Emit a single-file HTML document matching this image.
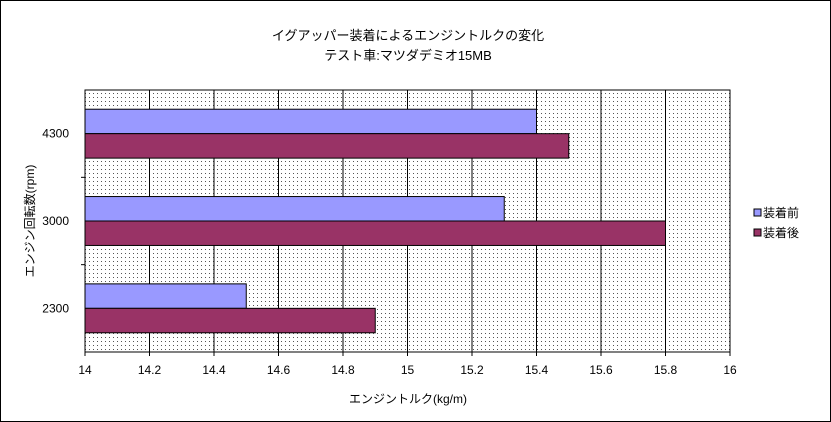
<!DOCTYPE html>
<html><head><meta charset="utf-8"><style>
body{margin:0;background:#fff;}
svg{display:block;font-family:"Liberation Sans","Noto Sans CJK JP",sans-serif;}
</style></head><body>
<svg width="831" height="422" viewBox="0 0 831 422">
<defs><pattern id="dots" width="4" height="4" patternUnits="userSpaceOnUse"><rect width="4" height="4" fill="#fff"/><rect x="1" y="1" width="1" height="1" fill="#555"/></pattern></defs>
<rect x="0.5" y="0.5" width="830" height="421" fill="#fff" stroke="#000"/>
<text x="408" y="40" font-size="13" text-anchor="middle">イグアッパー装着によるエンジントルクの変化</text>
<text x="408" y="60" font-size="13" text-anchor="middle">テスト車:マツダデミオ15MB</text>
<rect x="85" y="90" width="645" height="262" fill="url(#dots)" stroke="#000"/>
<g id="grid"></g><g id="bars"></g><g id="axes"></g>
<text x="408" y="403" font-size="12" text-anchor="middle">エンジントルク(kg/m)</text>
<text transform="translate(34,221) rotate(-90)" font-size="12" text-anchor="middle">エンジン回転数(rpm)</text>
<g>
<rect x="754" y="209" width="7" height="7" fill="#9999ff" stroke="#000"/>
<text x="763" y="217" font-size="12">装着前</text>
<rect x="754" y="229" width="7" height="7" fill="#993366" stroke="#000"/>
<text x="763" y="237" font-size="12">装着後</text>
</g>
</svg>
<script>
const categories=["4300","3000","2300"];
const before=[15.4,15.3,14.5];
const after=[15.5,15.8,14.9];
const xTicks=[14,14.2,14.4,14.6,14.8,15,15.2,15.4,15.6,15.8,16];
const ns="http://www.w3.org/2000/svg";
const X0=85,X1=730,Y0=90,Y1=352,xmin=14,xmax=16;
const xs=v=>X0+(v-xmin)/(xmax-xmin)*(X1-X0);
const band=(Y1-Y0)/categories.length;
function mk(t,a,p){const e=document.createElementNS(ns,t);for(const k in a)e.setAttribute(k,a[k]);p.appendChild(e);return e;}
const g=document.getElementById('grid'),b=document.getElementById('bars'),ax=document.getElementById('axes');
xTicks.forEach((t,i)=>{const x=xs(t);
 if(i>0&&i<xTicks.length-1){const l=mk('line',{x1:x,x2:x,y1:Y0,y2:Y1,stroke:'#000'},g);
 
 }
 const tk=mk('line',{x1:x,x2:x,y1:Y1,y2:Y1+4,stroke:'#000'},ax);
 
 
 const tx=mk('text',{x:x,y:374,'font-size':12,'text-anchor':'middle'},ax);tx.textContent=String(t);
 
 
});
const bh=band*0.28;
categories.forEach((c,i)=>{const yc=Y0+band*(i+0.5);
 const r1=mk('rect',{x:X0,y:yc-bh,width:xs(before[i])-X0,height:bh,fill:'#9999ff',stroke:'#000'},b);
 
 
 const r2=mk('rect',{x:X0,y:yc,width:xs(after[i])-X0,height:bh,fill:'#993366',stroke:'#000'},b);
 
 
 const tx=mk('text',{x:X0-16,y:yc+4,'font-size':12,'text-anchor':'end'},ax);tx.textContent=c;
 
 
 if(i>0){const tk=mk('line',{x1:X0-4,x2:X0,y1:Y0+band*i,y2:Y0+band*i,stroke:'#000'},ax);
 
 }
});
</script>
</body></html>
